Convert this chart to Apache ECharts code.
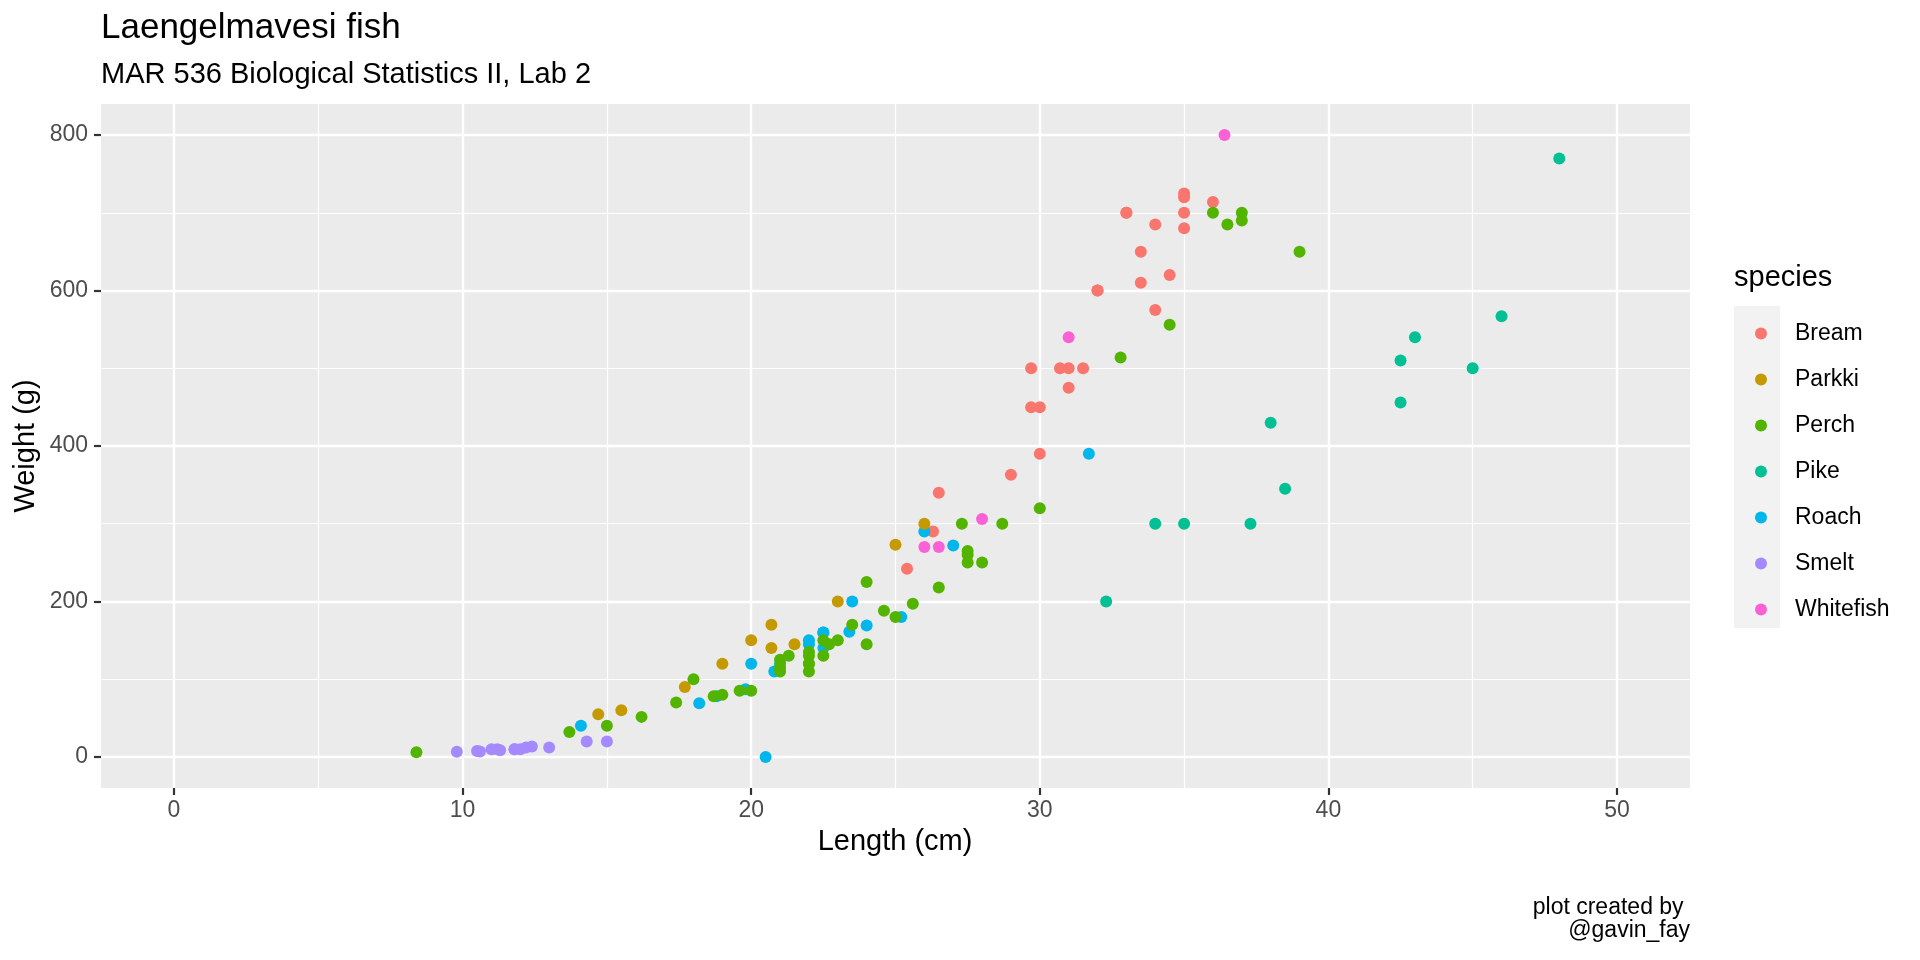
<!DOCTYPE html>
<html>
<head>
<meta charset="utf-8">
<title>Laengelmavesi fish</title>
<script src="https://cdn.jsdelivr.net/npm/echarts@6/dist/echarts.min.js"></script>
<style>
  html, body { margin: 0; padding: 0; background: #fff; }
  #chart { width: 1920px; height: 960px; }
</style>
</head>
<body>
<div id="chart"></div>
<script>
// Length (cm) / Weight (g) per species
var breamLength = [25.4, 26.3, 26.5, 29, 29.7, 29.7, 30, 30, 30.7, 31, 31, 31.5, 32, 32, 33, 33, 33.5, 33.5, 34, 34, 34.5, 35, 35, 35, 35, 36];
var breamWeight = [242, 290, 340, 363, 450, 500, 390, 450, 500, 475, 500, 500, 600, 600, 700, 700, 610, 650, 575, 685, 620, 680, 700, 725, 720, 714];

var roachLength = [14.1, 18.2, 18.8, 19.8, 20, 20.5, 20.8, 21, 22, 22, 22.5, 22.5, 22.5, 24, 23.4, 23.5, 25.2, 26, 27, 31.7];
var roachWeight = [40, 69, 78, 87, 120, 0, 110, 120, 150, 145, 160, 140, 160, 169, 161, 200, 180, 290, 272, 390];

var whitefishLength = [26, 26.5, 28, 31, 36.4];
var whitefishWeight = [270, 270, 306, 540, 800];

var parkkiLength = [14.7, 15.5, 17.7, 19, 20, 20.7, 20.7, 21.5, 23, 25, 26];
var parkkiWeight = [55, 60, 90, 120, 150, 140, 170, 145, 200, 273, 300];

var perchLength = [8.4, 13.7, 15, 16.2, 17.4, 18, 18.7, 19, 19.6, 20, 21, 21, 21, 21.3, 22, 22, 22, 22, 22,
    22.5, 22.5, 22.7, 23, 23.5, 24, 24, 24.6, 25, 25.6, 26.5, 27.3, 27.5, 27.5, 27.5, 28, 28.7, 30, 32.8,
    34.5, 36.5, 36, 37, 37, 39];
var perchWeight = [5.9, 32, 40, 51.5, 70, 100, 78, 80, 85, 85, 110, 115, 125, 130, 120, 120, 130, 135, 110,
    130, 150, 145, 150, 170, 225, 145, 188, 180, 197, 218, 300, 260, 265, 250, 250, 300, 320, 514,
    556, 685, 700, 700, 690, 650];

var pikeLength = [32.3, 34, 35, 37.3, 38, 38.5, 42.5, 42.5, 43, 45, 46, 48];
var pikeWeight = [200, 300, 300, 300, 430, 345, 456, 510, 540, 500, 567, 770];

var smeltLength = [9.8, 10.5, 10.6, 11, 11.2, 11.3, 11.8, 11.8, 12, 12.2, 12.4, 13, 14.3, 15];
var smeltWeight = [6.7, 7.5, 7, 9.7, 9.8, 8.7, 10, 9.9, 9.8, 12.2, 13.4, 12.2, 19.7, 19.9];

var legendOrder = ['Bream', 'Parkki', 'Perch', 'Pike', 'Roach', 'Smelt', 'Whitefish'];
var xTicks = [0, 10, 20, 30, 40, 50];
var xMinorTicks = [5, 15, 25, 35, 45];
var yTicks = [0, 200, 400, 600, 800];
var yMinorTicks = [100, 300, 500, 700];

var colors = {
    Bream: '#F8766D', Parkki: '#C49A00', Perch: '#53B400', Pike: '#00C094',
    Roach: '#00B6EB', Smelt: '#A58AFF', Whitefish: '#FB61D7'
};

function pairs(xs, ys) {
    return xs.map(function (x, i) { return [x, ys[i]]; });
}

// drawn in the order of the original data rows
var drawOrder = [
    ['Bream', breamLength, breamWeight],
    ['Roach', roachLength, roachWeight],
    ['Whitefish', whitefishLength, whitefishWeight],
    ['Parkki', parkkiLength, parkkiWeight],
    ['Perch', perchLength, perchWeight],
    ['Pike', pikeLength, pikeWeight],
    ['Smelt', smeltLength, smeltWeight]
];

var font = '"Liberation Sans", Arial, Helvetica, sans-serif';

var series = drawOrder.map(function (s) {
    return {
        name: s[0],
        type: 'scatter',
        symbol: 'circle',
        symbolSize: 12,
        itemStyle: { color: colors[s[0]], opacity: 1 },
        emphasis: { disabled: true },
        data: pairs(s[1], s[2])
    };
});

var myChart = echarts.init(document.getElementById('chart'));
myChart.setOption({
    animation: false,
    textStyle: { fontFamily: font },
    grid: {
        left: 101, right: 230, top: 104, bottom: 172,
        show: true, backgroundColor: '#EBEBEB', borderWidth: 0
    },
    xAxis: [{
        type: 'value', min: -2.53, max: 52.53,
        axisLine: { show: false, onZero: false },
        axisTick: { show: true, length: 7, customValues: xTicks, lineStyle: { color: '#333333', width: 2.2 } },
        axisLabel: { customValues: xTicks, margin: 11, color: '#4D4D4D', fontSize: 23, fontFamily: font },
        splitLine: { show: true, lineStyle: { color: '#FFFFFF', width: 2.4 } }
    }, {
        type: 'value', min: -2.53, max: 52.53, position: 'bottom',
        axisLine: { show: false, onZero: false },
        axisTick: { show: false, customValues: xMinorTicks },
        axisLabel: { show: false, customValues: xMinorTicks },
        splitLine: { show: true, lineStyle: { color: '#FFFFFF', width: 1.2 } }
    }],
    yAxis: [{
        type: 'value', min: -40, max: 840,
        axisLine: { show: false, onZero: false },
        axisTick: { show: true, length: 7, customValues: yTicks, lineStyle: { color: '#333333', width: 2.2 } },
        axisLabel: { customValues: yTicks, margin: 13, color: '#4D4D4D', fontSize: 23, fontFamily: font },
        splitLine: { show: true, lineStyle: { color: '#FFFFFF', width: 2.4 } }
    }, {
        type: 'value', min: -40, max: 840, position: 'left',
        axisLine: { show: false, onZero: false },
        axisTick: { show: false, customValues: yMinorTicks },
        axisLabel: { show: false, customValues: yMinorTicks },
        splitLine: { show: true, lineStyle: { color: '#FFFFFF', width: 1.2 } }
    }],
    legend: {
        orient: 'vertical',
        left: 1750, top: 317,
        itemWidth: 12, itemHeight: 12, itemGap: 23,
        icon: 'circle',
        data: legendOrder,
        selectedMode: false,
        textStyle: { fontSize: 23, color: '#000000', fontFamily: font, padding: [0, 0, 0, 23] }
    },
    graphic: [
        { type: 'rect', left: 1734, top: 306, z: -1, shape: { width: 46, height: 322 }, style: { fill: '#F2F2F2' } },
        { type: 'text', x: 101, y: 28, style: { text: 'Laengelmavesi fish', font: '35px ' + font, fill: '#000', textVerticalAlign: 'middle' } },
        { type: 'text', x: 101, y: 75, style: { text: 'MAR 536 Biological Statistics II, Lab 2', font: '29px ' + font, fill: '#000', textVerticalAlign: 'middle' } },
        { type: 'text', x: 895, y: 842, style: { text: 'Length (cm)', font: '29px ' + font, fill: '#000', textAlign: 'center', textVerticalAlign: 'middle' } },
        { type: 'text', x: 26, y: 446, rotation: Math.PI / 2, style: { text: 'Weight (g)', font: '29px ' + font, fill: '#000', textAlign: 'center', textVerticalAlign: 'middle' } },
        { type: 'text', x: 1734, y: 278, style: { text: 'species', font: '29px ' + font, fill: '#000', textVerticalAlign: 'middle' } },
        { type: 'text', x: 1690, y: 908, style: { text: 'plot created by ', font: '23px ' + font, fill: '#000', textAlign: 'right', textVerticalAlign: 'middle' } },
        { type: 'text', x: 1690, y: 931, style: { text: '@gavin_fay', font: '23px ' + font, fill: '#000', textAlign: 'right', textVerticalAlign: 'middle' } }
    ],
    series: series
});
</script>
</body>
</html>
